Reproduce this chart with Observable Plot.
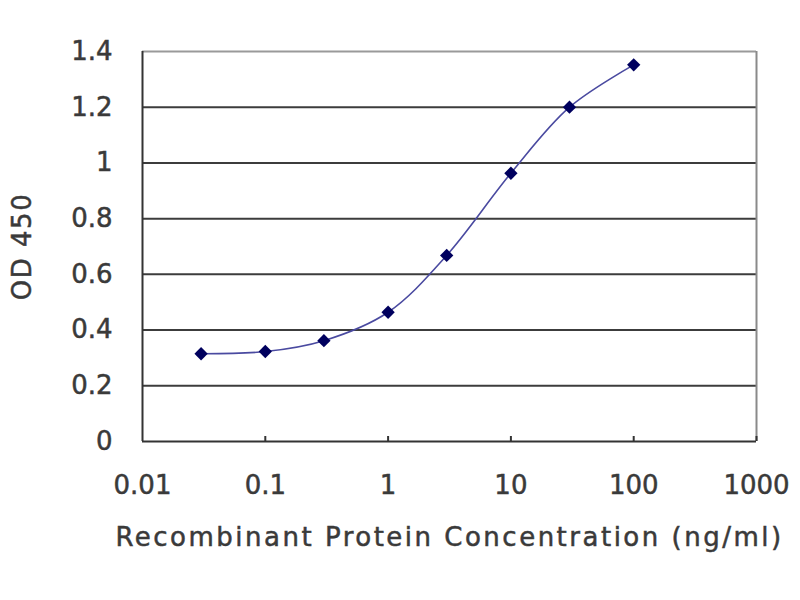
<!DOCTYPE html>
<html>
<head>
<meta charset="utf-8">
<script src="https://cdn.jsdelivr.net/npm/d3@7"></script>
<script src="https://cdn.jsdelivr.net/npm/@observablehq/plot@0.6"></script>
<style>
  body { margin: 0; background: #fff; }
  svg text { stroke: #3a3a3a; stroke-width: 0.5px; }
</style>
</head>
<body>
<div id="chart"></div>
<script>
const concentrations = [0.03, 0.1, 0.3, 1, 3, 10, 30, 100];
const od450 = [0.315, 0.323, 0.362, 0.464, 0.668, 0.963, 1.20, 1.352];
const xTickValues = [0.01, 0.1, 1, 10, 100, 1000];
const xTickLabels = ["0.01", "0.1", "1", "10", "100", "1000"];
const yTickValues = [0, 0.2, 0.4, 0.6, 0.8, 1.0, 1.2, 1.4];
const yTickLabels = ["0", "0.2", "0.4", "0.6", "0.8", "1", "1.2", "1.4"];
const xTitle = "Recombinant Protein Concentration (ng/ml)";
const yTitle = "OD 450";

const data = concentrations.map((c, i) => ({conc: c, od: od450[i]}));
const innerGrid = yTickValues.filter(v => v > 0 && v < 1.4);
const innerXTicks = xTickValues.slice(1);

const chart = Plot.plot({
  width: 800,
  height: 600,
  marginLeft: 142,
  marginRight: 44,
  marginTop: 51,
  marginBottom: 159,
  style: {fontFamily: "DejaVu Sans", color: "#3a3a3a", background: "#fff"},
  x: {type: "log", domain: [0.01, 1000]},
  y: {domain: [0, 1.4]},
  marks: [
    Plot.ruleY(innerGrid, {stroke: "#3c3c3c", strokeWidth: 2}),
    Plot.ruleY([1.4], {stroke: "#9a9a9a", strokeWidth: 2}),
    Plot.ruleX([1000], {y1: 0, y2: 1.4, stroke: "#8a8a8a", strokeWidth: 2}),
    Plot.ruleX([0.01], {y1: 0, y2: 1.4, stroke: "#333", strokeWidth: 2}),
    Plot.ruleY([0], {stroke: "#333", strokeWidth: 2}),
    Plot.ruleX(innerXTicks, {y1: 0, y2: 0.018, stroke: "#333", strokeWidth: 2}),
    Plot.axisX({
      ticks: xTickValues,
      tickFormat: d => xTickLabels[xTickValues.indexOf(d)],
      tickSize: 0,
      tickPadding: 34,
      fontSize: 26,
      label: null
    }),
    Plot.axisY({
      ticks: yTickValues,
      tickFormat: d => yTickLabels[yTickValues.findIndex(v => Math.abs(v - d) < 1e-9)],
      tickSize: 0,
      tickPadding: 30,
      fontSize: 26,
      label: null
    }),
    Plot.text([xTitle], {
      frameAnchor: "bottom", dy: 96, fontSize: 26, lineAnchor: "middle", textAnchor: "middle",
      fill: "#3a3a3a"
    }),
    Plot.text([yTitle], {
      frameAnchor: "left", dx: -120, rotate: -90, fontSize: 26, lineAnchor: "middle", textAnchor: "middle",
      fill: "#3a3a3a"
    }),
    Plot.line(data, {x: "conc", y: "od", curve: "catmull-rom", stroke: "#4a4aa0", strokeWidth: 1.6}),
    Plot.dot(data, {x: "conc", y: "od", symbol: "diamond2", r: 6, fill: "#00005e", stroke: "none"})
  ]
});
d3.select(chart).selectAll("text")
  .filter(function() { return this.textContent === xTitle; })
  .style("letter-spacing", "2.5px");
d3.select(chart).selectAll("text")
  .filter(function() { return this.textContent === yTitle; })
  .style("letter-spacing", "1.5px");
document.getElementById("chart").appendChild(chart);
</script>
</body>
</html>
